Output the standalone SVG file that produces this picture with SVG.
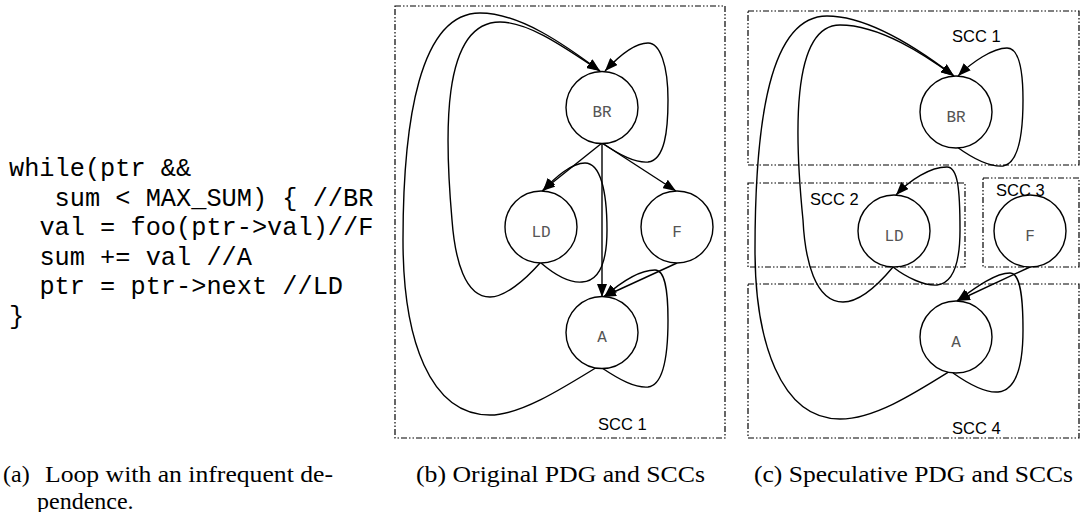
<svg xmlns="http://www.w3.org/2000/svg" width="1085" height="512" viewBox="0 0 1085 512">
<style>
.code{font-family:"Liberation Mono","Courier New",monospace;font-size:25.3px;fill:#000}
.cap{font-family:"Liberation Serif","Times New Roman",serif;font-size:24px;fill:#000}
.scc{font-family:"Liberation Sans",Arial,sans-serif;font-size:16.5px;fill:#000}
.box{fill:none;stroke:#000;stroke-width:1.2;stroke-dasharray:6 2 1.5 2 1.5 2}
.node circle{fill:#fff;stroke:#000;stroke-width:1.4}
.node text{font-family:"Liberation Mono","Courier New",monospace;font-size:16px;fill:#555;text-anchor:middle}
.edges path{fill:none;stroke:#000;stroke-width:1.4}
</style>
<defs>
<marker id="ah" markerWidth="13" markerHeight="10" refX="13" refY="5" orient="auto" markerUnits="userSpaceOnUse">
<path d="M0,0 L13,5 L0,10 z" fill="#000"/>
</marker>
</defs>
<rect width="1085" height="512" fill="#fff"/>

<g id="code">
<text class="code" x="9" y="176">while(ptr &amp;&amp;</text>
<text class="code" x="54.6" y="205.5">sum &lt; MAX_SUM) { //BR</text>
<text class="code" x="39.4" y="235">val = foo(ptr-&gt;val)//F</text>
<text class="code" x="39.4" y="264.5">sum += val //A</text>
<text class="code" x="39.4" y="294">ptr = ptr-&gt;next //LD</text>
<text class="code" x="9" y="323.5">}</text>
</g>

<g id="panel-b-box">
<rect class="box" x="395" y="6" width="330" height="432"/>
<text class="scc" x="598" y="430">SCC 1</text>
</g>

<g id="panel-c-boxes">
<rect class="box" x="748" y="11" width="331" height="154"/>
<text class="scc" x="952" y="42">SCC 1</text>
<rect class="box" x="748" y="183" width="217" height="84"/>
<text class="scc" x="810" y="205">SCC 2</text>
<rect class="box" x="983" y="178" width="96" height="89"/>
<text class="scc" x="996" y="196">SCC 3</text>
<rect class="box" x="748" y="284" width="331" height="154"/>
<text class="scc" x="952" y="434">SCC 4</text>
</g>

<g id="connectors" class="edges">
<!-- panel b -->
<path d="M602,364 C560,390 520,415 490,415 C430,415 403,340 403,240 C403,120 420,13 480,13 C520,13 565,45 600,71" marker-end="url(#ah)"/>
<path d="M540,263 C525,280 505,297 490,297 C465,297 455,260 452,220 C445,140 440,22 500,22 C530,22 568,50 600,71" marker-end="url(#ah)"/>
<path d="M602,143 C620,155 635,163 648,162 C665,160 668,130 668,100 C668,65 660,43 648,43 C635,43 618,57 605,71" marker-end="url(#ah)"/>
<path d="M602,143 L542,191" marker-end="url(#ah)"/>
<path d="M541,263 C555,275 570,283 582,282 C600,281 607,260 607,230 C607,190 600,163 585,163 C572,163 555,177 543,191" marker-end="url(#ah)"/>
<path d="M602,143 L602,297" marker-end="url(#ah)"/>
<path d="M602,143 L676,191" marker-end="url(#ah)"/>
<path d="M677,263 L603,297" marker-end="url(#ah)"/>
<path d="M602,368 C620,380 635,388 648,387 C665,385 668,350 668,320 C668,290 665,270 655,270 C640,270 620,283 604,297" marker-end="url(#ah)"/>
<!-- panel c -->
<path d="M955,368 C915,393 875,419 840,419 C780,419 755,340 755,250 C755,120 770,16 827,16 C870,16 920,50 954,76" marker-end="url(#ah)"/>
<path d="M893,267 C878,285 860,302 843,302 C815,302 805,260 803,220 C795,140 790,25 840,25 C880,25 925,55 954,76" marker-end="url(#ah)"/>
<path d="M957,147 C975,160 990,167 1003,166 C1020,163 1023,130 1023,100 C1023,65 1018,48 1007,48 C993,48 972,62 958,76" marker-end="url(#ah)"/>
<path d="M893,267 C907,278 925,286 937,285 C955,283 960,260 960,230 C960,190 958,167 947,167 C930,167 910,180 896,195" marker-end="url(#ah)"/>
<path d="M1030,267 L957,301" marker-end="url(#ah)"/>
<path d="M953,373 C970,385 985,393 998,392 C1018,390 1023,360 1023,330 C1023,295 1020,273 1010,273 C995,273 975,288 957,301" marker-end="url(#ah)"/>
</g>

<g id="b-BR" class="node"><circle cx="602" cy="107.5" r="36"/><text x="602" y="117">BR</text></g>
<g id="b-LD" class="node"><circle cx="541" cy="227" r="36"/><text x="541" y="236.5">LD</text></g>
<g id="b-F" class="node"><circle cx="677" cy="227" r="36"/><text x="677" y="236.5">F</text></g>
<g id="b-A" class="node"><circle cx="602" cy="332.5" r="36"/><text x="602" y="342">A</text></g>

<g id="c-BR" class="node"><circle cx="956" cy="112" r="36"/><text x="956" y="121.5">BR</text></g>
<g id="c-LD" class="node"><circle cx="894" cy="231" r="36"/><text x="894" y="240.5">LD</text></g>
<g id="c-F" class="node"><circle cx="1030" cy="231" r="36"/><text x="1030" y="240.5">F</text></g>
<g id="c-A" class="node"><circle cx="956" cy="337" r="36"/><text x="956" y="346.5">A</text></g>

<g id="captions">
<text class="cap" x="3" y="482">(a)</text>
<text class="cap" x="45" y="482" textLength="288" lengthAdjust="spacingAndGlyphs">Loop with an infrequent de-</text>
<text class="cap" x="37" y="509">pendence.</text>
<text class="cap" x="416" y="482" textLength="289" lengthAdjust="spacingAndGlyphs">(b) Original PDG and SCCs</text>
<text class="cap" x="754" y="482" textLength="319" lengthAdjust="spacingAndGlyphs">(c) Speculative PDG and SCCs</text>
</g>
</svg>
